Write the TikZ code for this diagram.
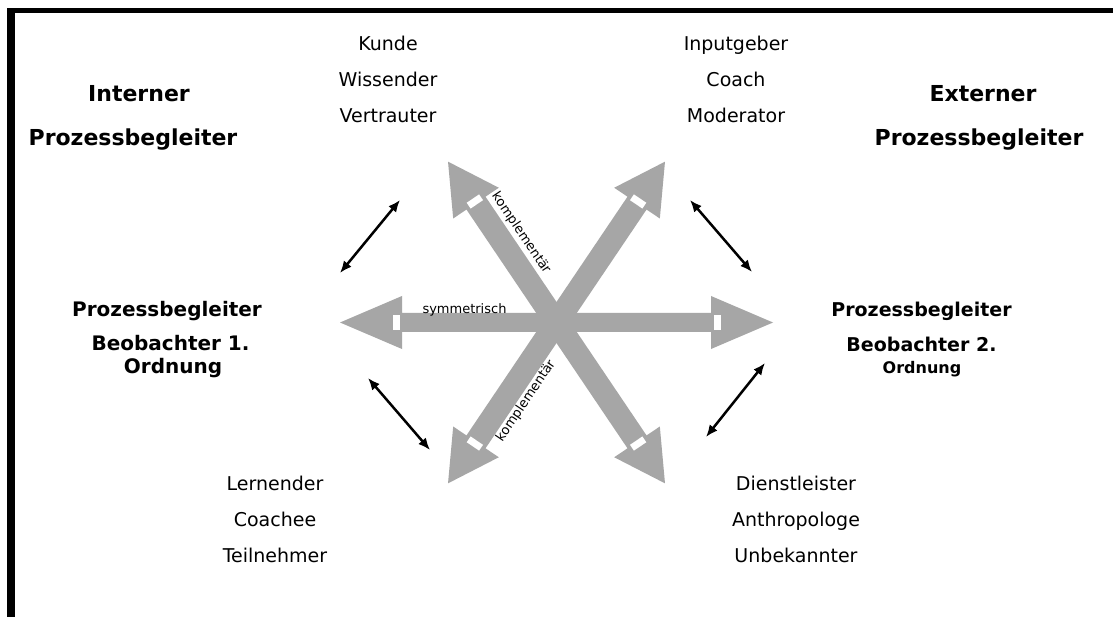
\documentclass[tikz,border=0pt]{standalone}
\usepackage{fontspec}
\setmainfont{DejaVu Sans}
\usetikzlibrary{arrows.meta}
\definecolor{arrowgray}{RGB}{166,166,166}
\tikzset{
  x=1pt, y=1pt,
  txt/.style={anchor=base, inner sep=0pt, font=\fontsize{19}{23}\selectfont},
  title/.style={anchor=base, inner sep=0pt, font=\fontsize{22}{26}\selectfont\bfseries},
  role/.style={anchor=base, inner sep=0pt, font=\fontsize{20}{24}\selectfont\bfseries},
  tag/.style={inner sep=0pt, font=\fontsize{13}{15}\selectfont},
  link/.style={line width=2.5pt, {Latex[length=12pt,width=10pt]}-{Latex[length=12pt,width=10pt]}},
  % double-headed block arrow along the local x axis:
  % half length, head length, head half width, shaft half width, notch offset
  pics/dblarrow/.style n args={5}{code={
    \fill[arrowgray] ({-#1},0) -- ({-#1+#2},{#3}) -- ({-#1+#2},{#4}) -- ({#1-#2},{#4})
      -- ({#1-#2},{#3}) -- ({#1},0) -- ({#1-#2},{-#3}) -- ({#1-#2},{-#4})
      -- ({-#1+#2},{-#4}) -- ({-#1+#2},{-#3}) -- cycle;
    \fill[white] ({#1-#2+#5-3.5},-7.5) rectangle ++(7,15);
    \fill[white] ({-(#1-#2+#5)-3.5},-7.5) rectangle ++(7,15);
  }},
}
\begin{document}
\begin{tikzpicture}
\useasboundingbox (0,0) rectangle (1113,-617);
\fill[white] (0,0) rectangle (1113,-617);

% frame on top and left
\fill[black] (7,-8) rectangle (1113,-13);
\fill[black] (7,-8) rectangle (15,-617);

% central star of block arrows
\coordinate (c) at (556.5,-322.5);
\pic[rotate=56]  at (c) {dblarrow={194}{50}{27.5}{11.5}{2}};
\pic[rotate=124] at (c) {dblarrow={194}{50}{27.5}{11.5}{2}};
\pic at (c) {dblarrow={216.5}{62}{26.5}{9.5}{6}};

\node[tag, anchor=base] (sym) at (464.5,-314) {symmetrisch};
\node[tag, rotate=-56] (kompup) at (521,-233) {komplementär};
\node[tag, rotate=56] (komplow) at (526,-401) {komplementär};

% corner titles
\node[title] (int1) at (139,-102) {Interner};
\node[title] (int2) at (133,-146) {Prozessbegleiter};
\node[title] (ext1) at (983,-102) {Externer};
\node[title] (ext2) at (979,-146) {Prozessbegleiter};

% observer roles
\node[role] (pl1) at (167,-317) {Prozessbegleiter};
\node[role] (pl2) at (170.5,-351) {Beobachter 1.};
\node[role] (pl3) at (173,-373) {Ordnung};
\node[role, font=\fontsize{19}{23}\selectfont\bfseries] (pr1) at (921.5,-317) {Prozessbegleiter};
\node[role, font=\fontsize{19}{23}\selectfont\bfseries] (pr2) at (921.5,-352) {Beobachter 2.};
\node[role, font=\fontsize{16}{19}\selectfont\bfseries] (pr3) at (922,-373) {Ordnung};

% role lists
\node[txt] (kunde) at (388,-51) {Kunde};
\node[txt] (wiss) at (388,-87) {Wissender};
\node[txt] (vert) at (388,-123) {Vertrauter};
\node[txt] (input) at (736,-51) {Inputgeber};
\node[txt] (coach) at (736,-87) {Coach};
\node[txt] (moder) at (736,-123) {Moderator};
\node[txt] (lern) at (275,-490) {Lernender};
\node[txt] (coachee) at (275,-526) {Coachee};
\node[txt] (teil) at (275,-562) {Teilnehmer};
\node[txt] (dienst) at (796,-490) {Dienstleister};
\node[txt] (anthro) at (796,-526) {Anthropologe};
\node[txt] (unbek) at (796,-562) {Unbekannter};

% thin double arrows between the positions
\coordinate (ula) at (340,-273);
\coordinate (ulb) at (400,-200);
\coordinate (ura) at (690,-200);
\coordinate (urb) at (752,-272);
\coordinate (lla) at (368,-378);
\coordinate (llb) at (430,-450);
\coordinate (lra) at (706,-437);
\coordinate (lrb) at (765,-363);
\draw[link] (ula) -- (ulb);
\draw[link] (ura) -- (urb);
\draw[link] (lla) -- (llb);
\draw[link] (lra) -- (lrb);
\end{tikzpicture}
\end{document}
